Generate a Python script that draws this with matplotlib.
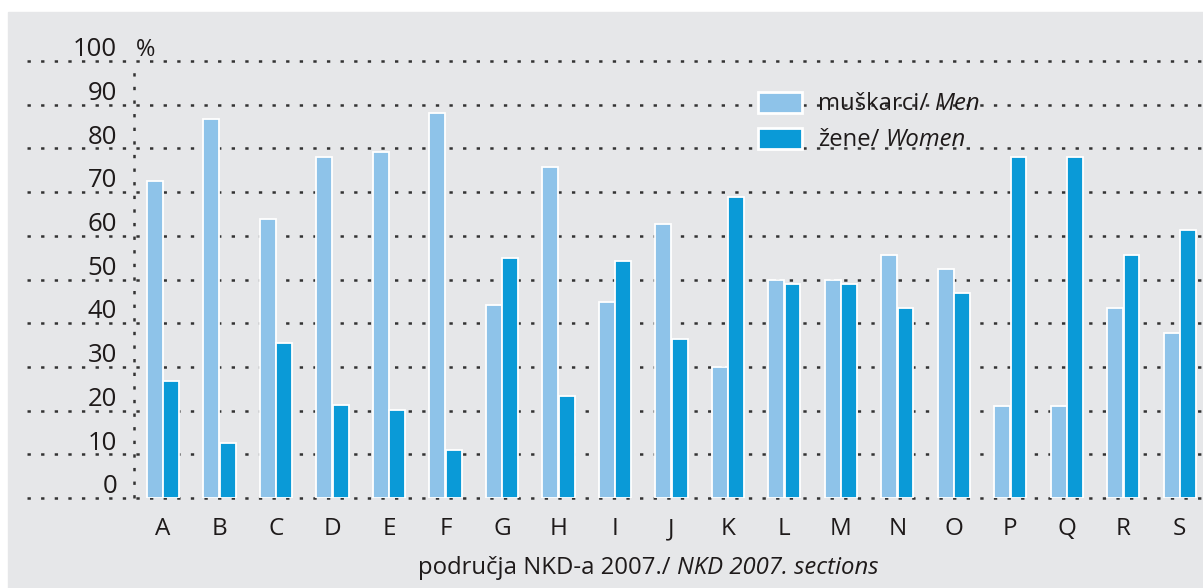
import numpy as np
import matplotlib.pyplot as plt
from matplotlib.patches import Rectangle

plt.rcParams['font.family'] = ['Open Sans', 'DejaVu Sans']
plt.rcParams['lines.scale_dashes'] = False

# data (%)
sections = list("ABCDEFGHIJKLMNOPQRS")
men = [72.5, 86.7, 63.8, 78.0, 79.2, 88.1, 44.2, 75.7, 44.9, 62.7,
       30.0, 49.9, 49.9, 55.6, 52.4, 21.0, 21.0, 43.5, 37.8]
women = [26.8, 12.6, 35.5, 21.3, 20.1, 11.0, 54.9, 23.3, 54.2, 36.4,
         68.9, 49.0, 49.0, 43.5, 46.9, 78.0, 78.0, 55.6, 61.3]
yticks = list(range(0, 101, 10))
series_labels = [("muškarci/", "Men"), ("žene/", "Women")]
xlabel_parts = ("područja NKD-a 2007./", "NKD 2007. sections")

c_men = '#8ec3e9'
c_women = '#0a9ad7'
bg = '#e6e7e9'
dot = '#333333'
txt = '#1e1a1a'
dots = (0, (2.4, 7.4))

W, H = 1203, 588
fig = plt.figure(figsize=(W / 100, H / 100), dpi=100)
fig.patches.append(Rectangle((8 / W, 0), 1, 1 - 12 / H, transform=fig.transFigure,
                             color=bg, zorder=-1))

ax = fig.add_axes([134 / W, 1 - 498 / H, 1 - 134 / W, (498 - 61) / H])
ax.set_facecolor('none')
x = np.arange(len(sections))
ax.bar(x - 0.145, men, 0.28, color=c_men, edgecolor='white', lw=1.3, zorder=3)
ax.bar(x + 0.145, women, 0.28, color=c_women, edgecolor='white', lw=1.3, zorder=3)
ax.set_xlim(-0.513, 18.41)
ax.set_ylim(0, 100)
for s in ax.spines.values():
    s.set_visible(False)
ax.set_yticks([])
ax.set_xticks(x, sections)
ax.tick_params(axis='x', length=0, pad=14, labelsize=17.5, labelcolor=txt)

# dotted grid, running left past the axis under the labels
left = -(134 - 27) / (1203 - 134)
for v in yticks:
    ax.plot([left, 1], [v, v], transform=ax.get_yaxis_transform(), clip_on=False,
            color=dot, lw=1.8, ls=dots, zorder=1)
    ax.annotate(str(v), xy=(0, v), xycoords=('axes fraction', 'data'),
                xytext=(-12.2, 3.4), textcoords='offset points',
                ha='right', va='baseline', fontsize=18.5, color=txt)
ax.plot([0, 0], [0, 98], transform=ax.get_yaxis_transform(), clip_on=False,
        color=dot, lw=1.8, ls=dots, zorder=1)
ax.annotate('%', xy=(0, 100), xycoords=('axes fraction', 'data'),
            xytext=(1.2, 3.4), textcoords='offset points',
            ha='left', va='baseline', fontsize=17, color=txt)

# legend drawn by hand (mixed upright / italic labels)
for (reg, ital), col, top in zip(series_labels, [c_men, c_women], [92, 128]):
    fig.patches.append(Rectangle((758 / W, 1 - (top + 21) / H), 44 / W, 21 / H,
                                 transform=fig.transFigure, facecolor=col,
                                 edgecolor='white', lw=2, zorder=2))
    t = fig.text(818 / W, 1 - (top + 18) / H, reg, fontsize=17.2, color=txt, va='baseline')
    ax.annotate(ital, xy=(1, 0), xycoords=t, xytext=(4.5, 0), textcoords='offset points',
                va='bottom', ha='left', fontsize=17.2, style='italic', color=txt,
                annotation_clip=False)

t = fig.text(418 / W, 1 - 574 / H, xlabel_parts[0], fontsize=17.2, color=txt, va='baseline')
ax.annotate(xlabel_parts[1], xy=(1, 0), xycoords=t, xytext=(4.5, 0), textcoords='offset points',
            va='bottom', ha='left', fontsize=17.2, style='italic', color=txt,
            annotation_clip=False)

fig.savefig('out.png', dpi=100)
